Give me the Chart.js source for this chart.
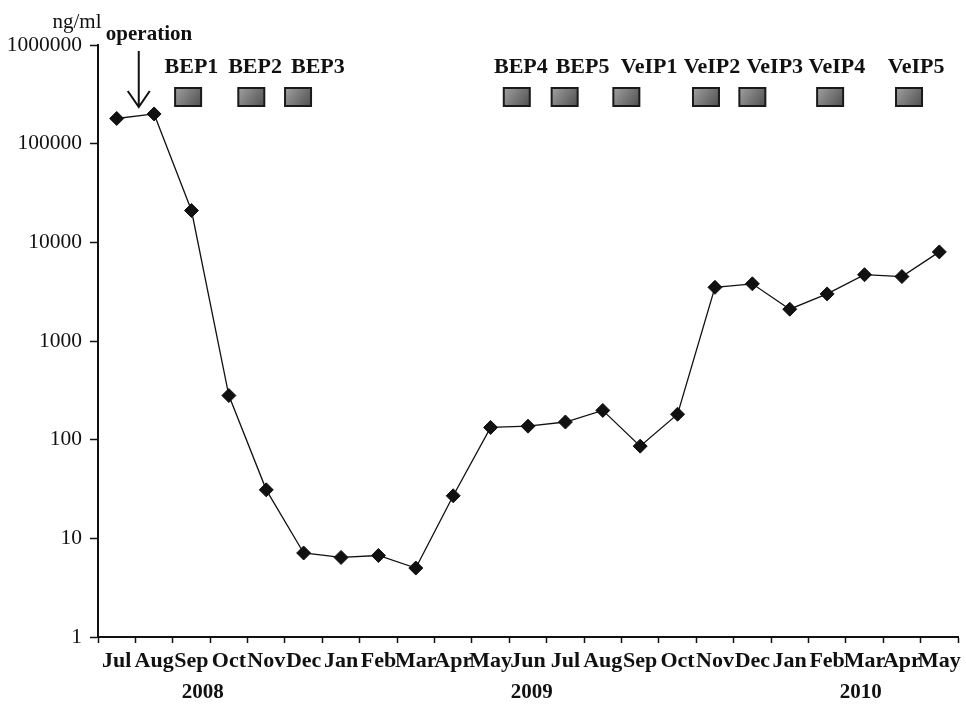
<!DOCTYPE html>
<html>
<head>
<meta charset="utf-8">
<script src="https://cdn.jsdelivr.net/npm/chart.js@4/dist/chart.umd.min.js"></script>
<style>
  html, body { margin: 0; padding: 0; background: #fff; }
  #wrap { width: 966px; height: 704px; }
</style>
</head>
<body>
<div id="wrap"><canvas id="afpChart" width="966" height="704"></canvas></div>
<script>
// months of follow-up, Jul 2008 .. May 2010
const months = ['Jul', 'Aug', 'Sep', 'Oct', 'Nov', 'Dec', 'Jan', 'Feb', 'Mar', 'Apr', 'May', 'Jun',
                'Jul', 'Aug', 'Sep', 'Oct', 'Nov', 'Dec', 'Jan', 'Feb', 'Mar', 'Apr', 'May'];
// marker level, ng/ml
const levels = [180000, 200000, 21000, 280, 31, 7.1, 6.4, 6.7, 5.0, 27, 133, 137,
                151, 198, 86, 181, 3500, 3800, 2100, 3000, 4700, 4500, 8000];
const yTicks = [1, 10, 100, 1000, 10000, 100000, 1000000];

const years = ['2008', '2009', '2010'];
const yearAt = [2.3, 11.1, 19.9];

// chemotherapy cycles, in month-index units
const cycles = ['BEP1', 'BEP2', 'BEP3', 'BEP4', 'BEP5', 'VeIP1', 'VeIP2', 'VeIP3', 'VeIP4', 'VeIP5'];
const cycleAt = [1.91, 3.6, 4.85, 10.7, 11.98, 13.63, 15.76, 17.0, 19.08, 21.19];
const cycleLabelAt = [2.0, 3.7, 5.38, 10.81, 12.46, 14.24, 15.92, 17.6, 19.26, 21.38];
const operationAt = 0.59;

const SERIF = '"Liberation Serif", "Times New Roman", serif';

const annotations = {
    id: 'annotations',
    afterDraw(chart) {
        const ctx = chart.ctx;
        const x = chart.scales.x;
        ctx.save();
        ctx.fillStyle = '#111';
        ctx.textAlign = 'center';
        ctx.textBaseline = 'middle';

        // unit label
        ctx.font = '21px ' + SERIF;
        ctx.fillText('ng/ml', 77, 22);

        // operation arrow
        ctx.font = 'bold 21px ' + SERIF;
        ctx.fillText('operation', 149, 35);
        const ax = x.getPixelForValue(operationAt);
        ctx.strokeStyle = '#111';
        ctx.lineWidth = 2;
        ctx.beginPath();
        ctx.moveTo(ax, 51);
        ctx.lineTo(ax, 107);
        ctx.moveTo(ax - 11, 91);
        ctx.lineTo(ax, 107);
        ctx.lineTo(ax + 11, 91);
        ctx.stroke();

        // cycle labels and boxes
        ctx.font = 'bold 22px ' + SERIF;
        cycles.forEach((name, i) => {
            ctx.fillStyle = '#111';
            ctx.fillText(name, x.getPixelForValue(cycleLabelAt[i]), 67);
            const cx = x.getPixelForValue(cycleAt[i]);
            const bx = cx - 13, by = 88, bw = 26, bh = 18;
            const g = ctx.createLinearGradient(bx, by, bx + bw, by + bh);
            g.addColorStop(0, '#a0a0a0');
            g.addColorStop(1, '#505050');
            ctx.fillStyle = g;
            ctx.fillRect(bx, by, bw, bh);
            ctx.strokeStyle = '#1a1a1a';
            ctx.lineWidth = 2;
            ctx.strokeRect(bx, by, bw, bh);
        });

        // years under the month labels
        ctx.fillStyle = '#111';
        ctx.font = 'bold 21px ' + SERIF;
        years.forEach((yr, i) => {
            ctx.fillText(yr, x.getPixelForValue(yearAt[i]), 693);
        });
        ctx.restore();
    }
};

new Chart(document.getElementById('afpChart'), {
    type: 'line',
    data: {
        labels: months,
        datasets: [{
            data: levels,
            borderColor: '#111',
            borderWidth: 1.3,
            pointStyle: 'rectRot',
            pointRadius: 7,
            pointBackgroundColor: '#111',
            pointBorderColor: '#111',
            pointBorderWidth: 1,
            tension: 0,
        }]
    },
    options: {
        responsive: false,
        animation: false,
        layout: { padding: { top: 45, right: 3, left: 0, bottom: 0 } },
        plugins: {
            legend: { display: false },
            tooltip: { enabled: false },
        },
        scales: {
            x: {
                offset: true,
                grid: {
                    offset: true,
                    drawOnChartArea: false,
                    color: '#111',
                    tickLength: 6,
                    tickWidth: 1.5,
                },
                border: { color: '#111', width: 2 },
                ticks: {
                    autoSkip: false,
                    maxRotation: 0,
                    minRotation: 0,
                    color: '#111',
                    padding: 5,
                    font: { family: SERIF, size: 22, weight: 'bold' },
                },
                afterFit(scale) { scale.height = 67; },
            },
            y: {
                type: 'logarithmic',
                min: 1,
                max: 1000000,
                afterBuildTicks(scale) {
                    scale.ticks = yTicks.map(v => ({ value: v, major: true }));
                },
                grid: {
                    drawOnChartArea: false,
                    color: '#111',
                    tickLength: 8,
                    tickWidth: 1.5,
                },
                border: { color: '#111', width: 2 },
                ticks: {
                    color: '#111',
                    padding: 8,
                    font: { family: SERIF, size: 21.5 },
                    callback: v => String(v),
                },
                afterFit(scale) { scale.width = 98; },
            }
        }
    },
    plugins: [annotations]
});
</script>
</body>
</html>
